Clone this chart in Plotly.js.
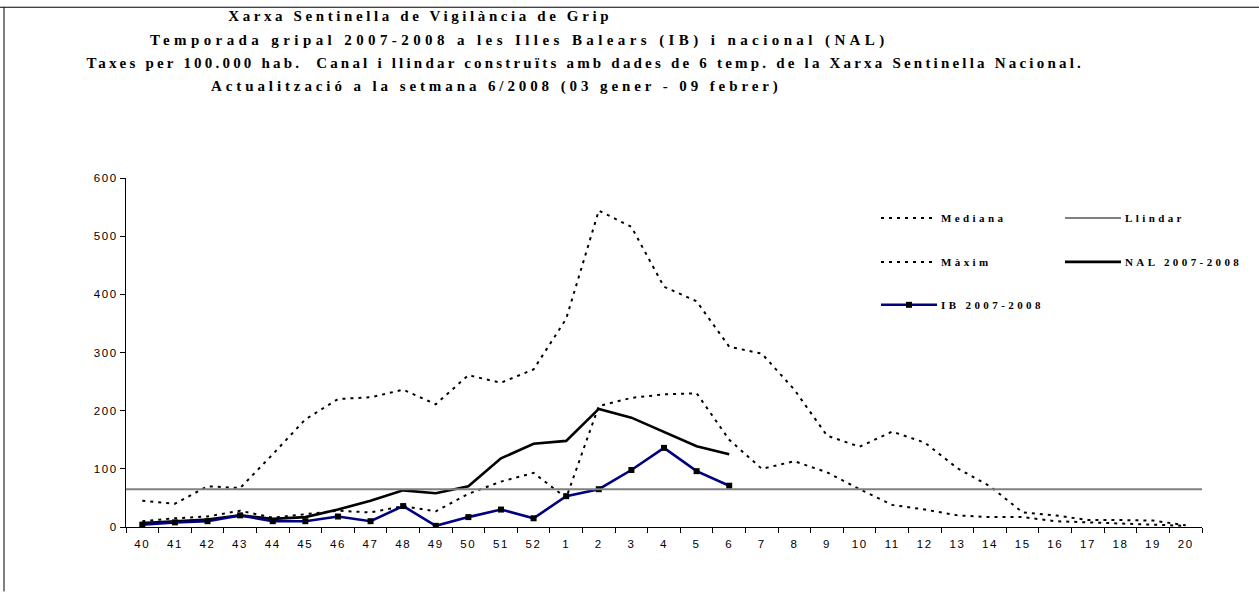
<!DOCTYPE html>
<html>
<head>
<meta charset="utf-8">
<script src="https://cdn.plot.ly/plotly-3.0.1.min.js"></script>
<style>
  html, body { margin: 0; padding: 0; background: #fff; }
  #chart { width: 1259px; height: 592px; }
  .annotation-text { letter-spacing: 3.4px; }
  .annotation[data-index="0"] .annotation-text { letter-spacing: 3.6px; }
  .annotation[data-index="1"] .annotation-text { letter-spacing: 4.4px; }
  .annotation[data-index="2"] .annotation-text { letter-spacing: 3.2px; }
  .annotation[data-index="3"] .annotation-text { letter-spacing: 3.9px; }
  .xtick text, .ytick text { letter-spacing: 1.6px; }
</style>
</head>
<body>
<div id="chart"></div>
<script>
// ---- data ----
const weeks = ['40','41','42','43','44','45','46','47','48','49','50','51','52',
               '1','2','3','4','5','6','7','8','9','10','11','12','13','14','15','16','17','18','19','20'];
const mediana = [10, 15, 18, 28, 16, 22, 28, 25, 36, 27, 57, 78, 93,
                 50, 208, 222, 228, 230, 150, 100, 113, 94, 65, 38, 30, 20, 17, 17, 10, 8, 6, 5, 2];
const maxim   = [45, 40, 70, 67, 125, 185, 220, 223, 236, 211, 261, 248, 271,
                 358, 544, 516, 413, 388, 310, 298, 236, 157, 138, 164, 145, 101, 70, 25, 20, 12, 12, 11, 3];
const nalWeeks = ['40','41','42','43','44','45','46','47','48','49','50','51','52','1','2','3','4','5','6'];
const nal = [7, 10, 13, 20, 14, 17, 30, 45, 63, 58, 70, 118, 143, 148, 203, 188, 164, 139, 125];
const ib  = [4, 8, 10, 20, 10, 10, 18, 10, 36, 2, 17, 30, 15, 53, 65, 98, 136, 96, 71];
const LLINDAR = 65;
const yTicks = [0, 100, 200, 300, 400, 500, 600];

const titleLines = [
  'Xarxa Sentinella de Vigilància de Grip',
  'Temporada gripal 2007-2008 a les Illes Balears (IB) i nacional (NAL)',
  'Taxes per 100.000 hab.  Canal i llindar construïts amb dades de 6 temp. de la Xarxa Sentinella Nacional.',
  'Actualització a la setmana 6/2008 (03 gener - 09 febrer)'
];
const legendNames = ['Mediana', 'Llindar', 'Màxim', 'NAL 2007-2008', 'IB 2007-2008'];

// ---- traces ----
const dotDash = '3px,5px';
const traces = [
  {x: weeks, y: mediana, type: 'scatter', mode: 'lines', name: legendNames[0],
   line: {color: '#000', width: 2, dash: dotDash}},
  {x: weeks, y: maxim, type: 'scatter', mode: 'lines', name: legendNames[2],
   line: {color: '#000', width: 2, dash: dotDash}},
  {x: nalWeeks, y: nal, type: 'scatter', mode: 'lines', name: legendNames[3],
   line: {color: '#000', width: 2.6}},
  {x: nalWeeks, y: ib, type: 'scatter', mode: 'lines+markers', name: legendNames[4],
   line: {color: '#000080', width: 2.6},
   marker: {symbol: 'square', size: 6, color: '#000'}}
];

// ---- layout pieces ----
const serif = 'Liberation Serif, Times New Roman, serif';
const sans = 'Liberation Sans, Arial, sans-serif';
const W = 1259, H = 592;
const M = {l: 126, r: 57, t: 178, b: 64.5};
const PW = W - M.l - M.r, PH = H - M.t - M.b;
// pixel -> paper (paper is relative to the plot area)
const px = v => (v - M.l) / PW;
const py = v => (H - M.b - v) / PH;

// centre of each title line (pixels)
const titlePos = [[420, 16], [519, 40], [585, 63], [496, 86]];
const annotations = titleLines.map((t, i) => ({
  text: '<b>' + t + '</b>', xref: 'paper', yref: 'paper',
  x: px(titlePos[i][0]), y: py(titlePos[i][1]), xanchor: 'center', yanchor: 'middle',
  showarrow: false, font: {family: serif, size: 15, color: '#000'}
}));

// manual legend (2 columns)
const legItems = [
  {name: legendNames[0], x: 881, y: 218, color: '#000', dash: 'dot', w: 2},
  {name: legendNames[1], x: 1065, y: 218, color: '#808080', dash: 'solid', w: 2},
  {name: legendNames[2], x: 881, y: 262, color: '#000', dash: 'dot', w: 2},
  {name: legendNames[3], x: 1065, y: 262, color: '#000', dash: 'solid', w: 2.6},
  {name: legendNames[4], x: 881, y: 305, color: '#000080', dash: 'solid', w: 2.6, marker: true}
];
const shapes = [
  // threshold line
  {type: 'line', xref: 'paper', yref: 'y', x0: 0, x1: 1, y0: LLINDAR, y1: LLINDAR,
   line: {color: '#808080', width: 2}},
  // outer frame (top and left)
  {type: 'line', xref: 'paper', yref: 'paper', x0: px(0), x1: px(1259), y0: py(7), y1: py(7),
   line: {color: '#000', width: 1}},
  {type: 'line', xref: 'paper', yref: 'paper', x0: px(4), x1: px(4), y0: py(7), y1: py(592),
   line: {color: '#000', width: 1}}
];
legItems.forEach(it => {
  shapes.push({type: 'line', xref: 'paper', yref: 'paper',
    x0: px(it.x), x1: px(it.x + 56), y0: py(it.y), y1: py(it.y),
    line: {color: it.color, width: it.w, dash: it.dash === 'dot' ? dotDash : 'solid'}});
  if (it.marker) {
    shapes.push({type: 'rect', xref: 'paper', yref: 'paper',
      x0: px(it.x + 25), x1: px(it.x + 31), y0: py(it.y - 3), y1: py(it.y + 3),
      fillcolor: '#000', line: {width: 0}});
  }
  annotations.push({text: '<b>' + it.name + '</b>', xref: 'paper', yref: 'paper',
    x: px(it.x + 58), y: py(it.y), xanchor: 'left', yanchor: 'middle', showarrow: false,
    font: {family: serif, size: 11, color: '#000'}});
});

const layout = {
  width: W, height: H,
  margin: {l: M.l, r: M.r, t: M.t, b: M.b, pad: 0},
  paper_bgcolor: '#fff', plot_bgcolor: '#fff',
  showlegend: false,
  xaxis: {
    type: 'category', categoryorder: 'array', categoryarray: weeks,
    range: [-0.5, weeks.length - 0.5],
    showline: true, linecolor: '#000', linewidth: 1,
    ticks: 'outside', ticklen: 5, tickcolor: '#000', tickson: 'boundaries',
    showgrid: false, zeroline: false,
    tickfont: {family: sans, size: 11.5, color: '#000'}, ticklabelstandoff: 6
  },
  yaxis: {
    range: [0, 600], tickvals: yTicks, ticktext: yTicks.map(String),
    showline: true, linecolor: '#000', linewidth: 1,
    ticks: 'outside', ticklen: 5, tickcolor: '#000',
    showgrid: false, zeroline: false,
    tickfont: {family: sans, size: 11.5, color: '#000'}
  },
  annotations: annotations,
  shapes: shapes
};

Plotly.newPlot('chart', traces, layout, {staticPlot: true, displayModeBar: false});
</script>
</body>
</html>
